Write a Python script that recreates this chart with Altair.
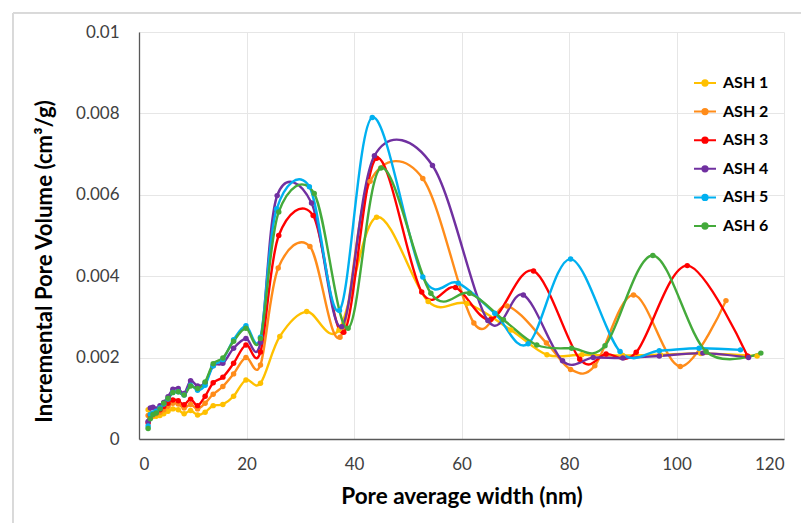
import altair as alt
import pandas as pd

SERIES = ["ASH 1", "ASH 2", "ASH 3", "ASH 4", "ASH 5", "ASH 6"]
COLORS = ["#FFC000", "#FF8C1A", "#FF0000", "#7030A0", "#00B0F0", "#44AA3B"]

X_LOW = [1.7, 2.1, 2.6, 3.2, 3.9, 4.6, 5.4, 6.3, 7.3, 8.4, 9.6, 10.9, 12.3, 13.8, 15.6, 17.6, 19.9, 22.6]

ASH1_LOW = [0.00072, 0.00060, 0.00055, 0.00056, 0.00058, 0.00062, 0.00068, 0.00074, 0.00072, 0.00062, 0.00070, 0.00059, 0.00066, 0.00082, 0.00085, 0.00105, 0.00145, 0.00137]
ASH2_LOW = [0.00058, 0.00055, 0.00058, 0.00062, 0.00066, 0.00072, 0.00080, 0.00088, 0.00086, 0.00076, 0.00085, 0.00074, 0.00088, 0.00110, 0.00129, 0.00160, 0.00200, 0.00182]
ASH3_LOW = [0.00040, 0.00058, 0.00062, 0.00066, 0.00072, 0.00080, 0.00088, 0.00096, 0.00094, 0.00084, 0.00098, 0.00082, 0.00105, 0.00138, 0.00152, 0.00186, 0.00231, 0.00214]
ASH4_LOW = [0.00043, 0.00076, 0.00078, 0.00074, 0.00082, 0.00090, 0.00104, 0.00122, 0.00124, 0.00112, 0.00143, 0.00130, 0.00138, 0.00180, 0.00186, 0.00223, 0.00247, 0.00237]
ASH5_LOW = [0.00032, 0.00060, 0.00064, 0.00068, 0.00076, 0.00086, 0.00098, 0.00114, 0.00116, 0.00108, 0.00132, 0.00120, 0.00132, 0.00180, 0.00195, 0.00244, 0.00278, 0.00250]
ASH6_LOW = [0.00026, 0.00050, 0.00060, 0.00064, 0.00074, 0.00088, 0.00100, 0.00114, 0.00116, 0.00108, 0.00130, 0.00124, 0.00140, 0.00185, 0.00199, 0.00240, 0.00272, 0.00247]

ASH1_X = [26.2, 31.2, 37.2, 44.2, 53.8, 61.0, 69.2, 75.9, 82.4, 90.0, 97.0, 104.5, 115.0]
ASH1_Y = [0.00252, 0.00313, 0.00268, 0.00545, 0.00338, 0.00333, 0.00268, 0.00207, 0.00207, 0.00205, 0.00207, 0.00210, 0.00204]
ASH2_X = [25.9, 31.8, 37.4, 43.0, 52.8, 62.3, 68.5, 75.8, 80.3, 84.8, 92.0, 100.7, 109.2]
ASH2_Y = [0.00420, 0.00473, 0.00250, 0.00633, 0.00640, 0.00285, 0.00327, 0.00236, 0.00171, 0.00180, 0.00354, 0.00178, 0.00340]
ASH3_X = [26.0, 32.4, 38.1, 44.2, 52.6, 58.9, 65.5, 73.4, 82.0, 86.9, 92.5, 102.0, 113.2]
ASH3_Y = [0.00500, 0.00549, 0.00262, 0.00690, 0.00361, 0.00372, 0.00294, 0.00413, 0.00196, 0.00209, 0.00213, 0.00426, 0.00204]
ASH4_X = [25.7, 32.1, 37.7, 43.8, 54.6, 64.9, 71.5, 78.8, 84.5, 90.0, 96.8, 104.9, 113.4]
ASH4_Y = [0.00598, 0.00580, 0.00276, 0.00696, 0.00672, 0.00291, 0.00354, 0.00192, 0.00200, 0.00199, 0.00204, 0.00211, 0.00200]
ASH5_X = [25.6, 31.7, 37.3, 43.4, 52.8, 59.4, 66.2, 72.4, 80.3, 89.5, 96.8, 104.2, 111.9]
ASH5_Y = [0.00565, 0.00620, 0.00316, 0.00790, 0.00398, 0.00383, 0.00309, 0.00234, 0.00442, 0.00215, 0.00217, 0.00223, 0.00219]
ASH6_X = [26.0, 32.6, 38.9, 45.0, 54.3, 61.5, 67.8, 74.0, 80.5, 86.7, 95.6, 105.5, 115.7]
ASH6_Y = [0.00558, 0.00603, 0.00272, 0.00666, 0.00358, 0.00358, 0.00293, 0.00231, 0.00223, 0.00229, 0.00451, 0.00215, 0.00211]

X_TICKS = [0, 20, 40, 60, 80, 100, 120]
Y_TICKS = [0, 0.002, 0.004, 0.006, 0.008, 0.01]

lows = [ASH1_LOW, ASH2_LOW, ASH3_LOW, ASH4_LOW, ASH5_LOW, ASH6_LOW]
highs_x = [ASH1_X, ASH2_X, ASH3_X, ASH4_X, ASH5_X, ASH6_X]
highs_y = [ASH1_Y, ASH2_Y, ASH3_Y, ASH4_Y, ASH5_Y, ASH6_Y]

rows = []
for s, lo, hx, hy in zip(SERIES, lows, highs_x, highs_y):
    for xv, yv in zip(X_LOW + hx, lo + hy):
        rows.append({"series": s, "width": xv, "volume": yv})
df = pd.DataFrame(rows)

FONT = "Lato"
W, H = 645, 407

LEG_PATH = "M-1,0L1,0M-0.24,0a0.24,0.24 0 1,0 0.48,0a0.24,0.24 0 1,0 -0.48,0Z"

color = alt.Color(
    "series:N",
    scale=alt.Scale(domain=SERIES, range=COLORS),
    legend=alt.Legend(
        title=None, orient="none", legendX=554, legendY=39, padding=0,
        rowPadding=8.6, symbolType=LEG_PATH, symbolSize=484,
        symbolStrokeWidth=2, symbolOpacity=1, labelFont=FONT, labelFontSize=16,
        labelFontWeight="bold", labelColor="#000000", labelOffset=6,
    ),
)

x = alt.X(
    "width:Q",
    scale=alt.Scale(domain=[0, 120], nice=False),
    axis=alt.Axis(
        values=X_TICKS, title="Pore average width (nm)", ticks=False,
        labelFont=FONT, labelFontSize=17, labelColor="#404040", labelPadding=17,
        titleFont=FONT, titleFontSize=22.5, titleFontWeight="bold", titleColor="#000000",
        titlePadding=13, domainColor="#595959", domainWidth=1.3,
        gridColor="#e6e6e6", gridWidth=1,
    ),
)
y = alt.Y(
    "volume:Q",
    scale=alt.Scale(domain=[0, 0.01], nice=False),
    axis=alt.Axis(
        values=Y_TICKS, format="~g", title="Incremental Pore Volume (cm³/g)", ticks=False,
        labelFont=FONT, labelFontSize=17, labelColor="#404040", labelPadding=20,
        titleFont=FONT, titleFontSize=22.2, titleFontWeight="bold", titleColor="#000000",
        titleX=-83, titleY=229, domainColor="#595959", domainWidth=1.3,
        gridColor="#e6e6e6", gridWidth=1,
    ),
)

base = alt.Chart(df)
lines = base.mark_line(interpolate="cardinal", strokeWidth=2.4).encode(x=x, y=y, color=color)
points = base.mark_point(filled=True, size=30, opacity=1).encode(x=x, y=y, color=color)

frame_left = alt.Chart(df).mark_rule(color="#d9d9d9", strokeWidth=1).encode(
    x=alt.value(-126), y=alt.value(-19), y2=alt.value(H + 100))
frame_top = alt.Chart(df).mark_rule(color="#d9d9d9", strokeWidth=1).encode(
    x=alt.value(-126), x2=alt.value(W + 40), y=alt.value(-19))

chart = alt.layer(frame_left, frame_top, lines, points).properties(
    width=W, height=H,
    autosize=alt.AutoSizeParams(type="none"),
    padding={"left": 139, "top": 32, "right": 17, "bottom": 84},
    background="white",
).configure_view(stroke=None)

chart.save("out.html", embed_options={"renderer": "svg", "actions": False})
